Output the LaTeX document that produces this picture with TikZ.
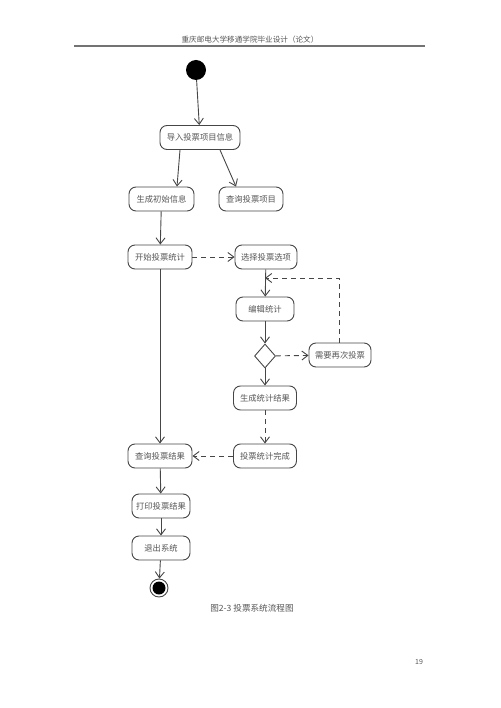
\documentclass[tikz,border=0pt]{standalone}
\usepackage{fontspec}
\setmainfont{Noto Sans CJK SC}
\usepackage{tikz}
\usetikzlibrary{arrows.meta,positioning,shapes.geometric}
\definecolor{lineg}{RGB}{70,70,70}
\definecolor{textg}{RGB}{85,85,85}

\begin{document}
\begin{tikzpicture}[
    x=1pt, y=-1pt,
    act/.style={rectangle, draw=lineg, line width=0.9pt, fill=white, rounded corners=7pt, minimum height=24pt, inner sep=1pt, align=center, font=\fontsize{8.3}{10}\selectfont, text=textg},
    decide/.style={diamond, draw=lineg, line width=0.9pt, fill=white, minimum width=21pt, minimum height=24pt, inner sep=0pt, aspect=0.85},
    arrow/.style={-{Straight Barb[length=6pt, width=9pt]}, line width=0.9pt, lineg},
    darrow/.style={-{Straight Barb[length=6pt, width=9pt]}, line width=0.9pt, lineg, dash pattern=on 5pt off 4pt},
    label/.style={font=\fontsize{7.6}{9}\selectfont, text=textg}
]
\useasboundingbox (0,0) rectangle (500,708);

% page header
\node[label] (head) at (250,40) {重庆邮电大学移通学院毕业设计（论文）};
\draw[line width=1.3pt, black!55] (74,46) -- (425,46);

% start / end
\node[circle, fill=black, minimum size=20pt, inner sep=0pt] (start) at (196,70) {};
\node[circle, draw=lineg, line width=0.9pt, minimum size=18pt, inner sep=0pt] (stop) at (159,588) {};
\node[circle, fill=black, minimum size=13pt, inner sep=0pt] at (stop) {};

% main column
\node[act, minimum width=80pt] (import) at (200,137.5) {导入投票项目信息};
\node[act, minimum width=65pt] (geninit) at (161.5,199) {生成初始信息};
\node[act, minimum width=64pt] (queryitem) at (251,199) {查询投票项目};
\node[act, minimum width=64pt] (begin) at (160,257) {开始投票统计};
\node[act, minimum width=64pt] (queryres) at (160,456) {查询投票结果};
\node[act, minimum width=58pt] (print) at (161,506) {打印投票结果};
\node[act, minimum width=58pt] (quit) at (161,548) {退出系统};

% voting branch
\node[act, minimum width=62pt] (choose) at (266,257) {选择投票选项};
\node[act, minimum width=58pt] (edit) at (265,309) {编辑统计};
\node[decide] (check) at (265,356) {};
\node[act, minimum width=62pt] (again) at (340,355) {需要再次投票};
\node[act, minimum width=63pt] (result) at (265,398) {生成统计结果};
\node[act, minimum width=63pt] (done) at (265,456) {投票统计完成};

% loop corner
\coordinate (loopc) at (339,278);
\coordinate (loopin) at (265,278);

% arrows
\draw[arrow] (start) -- (import);
\draw[arrow] ([xshift=-20pt]import.south) -- ([xshift=15.5pt]geninit.north);
\draw[arrow] ([xshift=20pt]import.south) -- ([xshift=-15pt]queryitem.north);
\draw[arrow] (geninit) -- (begin);
\draw[darrow] (begin) -- (choose);
\draw[arrow] (choose) -- (edit);
\draw[arrow] (edit) -- (check);
\draw[darrow] (check) -- (again);
\draw[darrow] (again.north -| loopc) -- (loopc) -- (loopin);
\draw[arrow] (check) -- (result);
\draw[darrow] (result) -- (done);
\draw[darrow] (done) -- (queryres);
\draw[arrow] (begin) -- (queryres);
\draw[arrow] (queryres) -- (print);
\draw[arrow] (print) -- (quit);
\draw[arrow] (quit) -- (stop);

% caption and page number
\node[font=\fontsize{8.6}{10}\selectfont, text=textg] (caption) at (252,608) {图2-3 投票系统流程图};
\node[font=\fontsize{7}{8}\selectfont, text=textg] (page) at (419,662) {19};
\end{tikzpicture}
\end{document}
